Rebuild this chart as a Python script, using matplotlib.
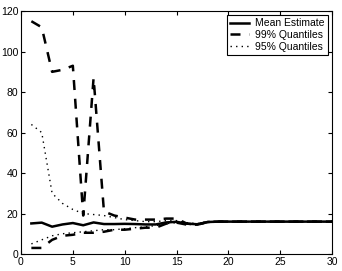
import numpy as np
import matplotlib
matplotlib.use('Agg')
import matplotlib.pyplot as plt

plt.rcParams['font.family'] = ['Liberation Sans', 'DejaVu Sans']

# 数据
n = np.arange(1, 31)
mean_est = [15.1, 15.5, 13.5, 14.6, 15.3, 14.2, 15.6, 14.8, 14.8, 14.9,
            14.8, 14.6, 14.6, 15.6, 15.9, 15.0, 14.7, 15.8, 16, 16,
            16, 16, 16, 16, 16, 16, 16, 16, 16, 16]
q99_up = [115, 112, 90, 91, 93, 19, 87, 21, 19, 18,
          17, 17, 17, 17.5, 17.5, 15, 14.5, 15.8, 16, 16,
          16, 16, 16, 16, 16, 16, 16, 16, 16, 16]
q99_lo = [3, 3, 7, 9, 9.5, 10.5, 10.5, 11, 12, 12,
          12.5, 13, 13, 15, 15.5, 14.5, 14.5, 15.8, 16, 16,
          16, 16, 16, 16, 16, 16, 16, 16, 16, 16]
q95_up = [64, 60, 30, 25, 22, 20, 19.5, 19, 18, 17,
          16.5, 16, 16, 16.5, 16.5, 15.5, 15, 16, 16, 16,
          16, 16, 16, 16, 16, 16, 16, 16, 16, 16]
q95_lo = [5, 7, 9, 10, 10.5, 11, 11.5, 12, 12, 12.5,
          13, 13.5, 14, 15, 15.5, 15, 14.8, 15.8, 16, 16,
          16, 16, 16, 16, 16, 16, 16, 16, 16, 16]

fig = plt.figure(figsize=(3.42, 2.71), dpi=100)
ax = fig.add_axes([0.0614, 0.0627, 0.9096, 0.8963])

ax.plot(n, mean_est, 'k-', lw=1.8, label='Mean Estimate')
ax.plot(n, q99_up, 'k--', lw=1.8, dashes=(4, 3.5), label='99% Quantiles')
ax.plot(n, q99_lo, 'k--', lw=1.8, dashes=(4, 3.5))
ax.plot(n, q95_up, 'k:', lw=1.0, dashes=(1, 3), label='95% Quantiles')
ax.plot(n, q95_lo, 'k:', lw=1.0, dashes=(1, 3))

ax.set_xlim(0, 30)
ax.set_ylim(0, 120)
ax.set_xticks(range(0, 31, 5))
ax.set_yticks(range(0, 121, 20))
ax.tick_params(direction='in', labelsize=7.5, length=3, top=True, right=True, pad=2)

leg = ax.legend(loc='upper right', fontsize=7.5, frameon=True, fancybox=False,
                edgecolor='black', framealpha=1, borderpad=0.3, labelspacing=0.15,
                handlelength=1.8, handletextpad=0.6, borderaxespad=0.4)
leg.get_frame().set_linewidth(0.8)

plt.savefig('out.png', dpi=100)
plt.close()
